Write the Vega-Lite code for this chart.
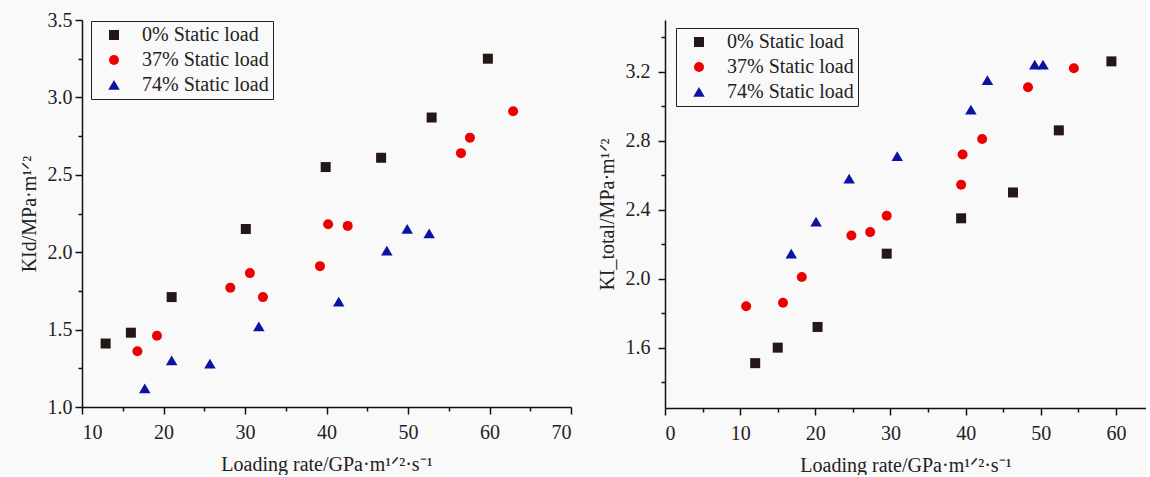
{
  "$schema": "https://vega.github.io/schema/vega-lite/v6.json",
  "background": "#f9f9f9",
  "padding": {"left": 19, "top": 10, "right": 0, "bottom": 0},
  "spacing": 25,
  "config": {
    "font": "Liberation Serif",
    "view": {"stroke": null},
    "axis": {
      "grid": false,
      "domainColor": "#111111",
      "domainWidth": 1.5,
      "tickColor": "#111111",
      "tickWidth": 1.5,
      "labelFont": "Liberation Serif",
      "labelFontSize": 20,
      "labelColor": "#222222",
      "titleFont": "Liberation Serif",
      "titleFontSize": 20,
      "titleFontWeight": "normal",
      "titleColor": "#222222",
      "labelOverlap": false
    },
    "legend": {
      "title": null,
      "orient": "none",
      "strokeColor": "#222222",
      "padding": 4,
      "labelFont": "Liberation Serif",
      "labelFontSize": 20,
      "labelColor": "#222222",
      "symbolSize": 100,
      "symbolStrokeWidth": 0,
      "symbolOffset": 9,
      "labelOffset": 18,
      "rowPadding": 5
    }
  },
  "datasets": {
    "left": [
      {"series": "0% Static load", "rate": 12.9, "K": 1.41},
      {"series": "0% Static load", "rate": 16.0, "K": 1.48},
      {"series": "0% Static load", "rate": 21.0, "K": 1.71},
      {"series": "0% Static load", "rate": 30.1, "K": 2.15},
      {"series": "0% Static load", "rate": 39.9, "K": 2.55},
      {"series": "0% Static load", "rate": 46.7, "K": 2.61},
      {"series": "0% Static load", "rate": 52.9, "K": 2.87},
      {"series": "0% Static load", "rate": 59.8, "K": 3.25},
      {"series": "37% Static load", "rate": 16.8, "K": 1.36},
      {"series": "37% Static load", "rate": 19.2, "K": 1.46},
      {"series": "37% Static load", "rate": 28.2, "K": 1.77},
      {"series": "37% Static load", "rate": 30.6, "K": 1.865},
      {"series": "37% Static load", "rate": 32.2, "K": 1.71},
      {"series": "37% Static load", "rate": 39.2, "K": 1.91},
      {"series": "37% Static load", "rate": 40.2, "K": 2.18},
      {"series": "37% Static load", "rate": 42.6, "K": 2.17},
      {"series": "37% Static load", "rate": 56.5, "K": 2.64},
      {"series": "37% Static load", "rate": 57.6, "K": 2.74},
      {"series": "37% Static load", "rate": 62.9, "K": 2.91},
      {"series": "74% Static load", "rate": 17.7, "K": 1.12},
      {"series": "74% Static load", "rate": 21.0, "K": 1.30},
      {"series": "74% Static load", "rate": 25.7, "K": 1.28},
      {"series": "74% Static load", "rate": 31.7, "K": 1.52},
      {"series": "74% Static load", "rate": 41.5, "K": 1.68},
      {"series": "74% Static load", "rate": 47.4, "K": 2.01},
      {"series": "74% Static load", "rate": 49.9, "K": 2.15},
      {"series": "74% Static load", "rate": 52.6, "K": 2.12}
    ],
    "right": [
      {"series": "0% Static load", "rate": 12.0, "K": 1.51},
      {"series": "0% Static load", "rate": 15.0, "K": 1.60},
      {"series": "0% Static load", "rate": 20.3, "K": 1.72},
      {"series": "0% Static load", "rate": 29.5, "K": 2.145},
      {"series": "0% Static load", "rate": 39.4, "K": 2.35},
      {"series": "0% Static load", "rate": 46.3, "K": 2.50},
      {"series": "0% Static load", "rate": 52.4, "K": 2.86},
      {"series": "0% Static load", "rate": 59.4, "K": 3.26},
      {"series": "37% Static load", "rate": 10.8, "K": 1.84},
      {"series": "37% Static load", "rate": 15.7, "K": 1.86},
      {"series": "37% Static load", "rate": 18.2, "K": 2.01},
      {"series": "37% Static load", "rate": 24.8, "K": 2.25},
      {"series": "37% Static load", "rate": 27.3, "K": 2.27},
      {"series": "37% Static load", "rate": 29.5, "K": 2.365},
      {"series": "37% Static load", "rate": 39.4, "K": 2.545},
      {"series": "37% Static load", "rate": 39.6, "K": 2.72},
      {"series": "37% Static load", "rate": 42.2, "K": 2.81},
      {"series": "37% Static load", "rate": 48.3, "K": 3.11},
      {"series": "37% Static load", "rate": 54.4, "K": 3.22},
      {"series": "74% Static load", "rate": 16.8, "K": 2.145},
      {"series": "74% Static load", "rate": 20.1, "K": 2.33},
      {"series": "74% Static load", "rate": 24.5, "K": 2.58},
      {"series": "74% Static load", "rate": 30.9, "K": 2.71},
      {"series": "74% Static load", "rate": 40.7, "K": 2.98},
      {"series": "74% Static load", "rate": 42.9, "K": 3.15},
      {"series": "74% Static load", "rate": 49.2, "K": 3.24},
      {"series": "74% Static load", "rate": 50.3, "K": 3.24}
    ]
  },
  "resolve": {
    "scale": {"color": "independent", "shape": "independent"},
    "legend": {"color": "independent", "shape": "independent"}
  },
  "hconcat": [
    {
      "width": 489,
      "height": 387,
      "data": {"name": "left"},
      "mark": {"type": "point", "filled": true, "opacity": 1, "size": 100, "strokeWidth": 0},
      "encoding": {
        "x": {
          "field": "rate", "type": "quantitative",
          "scale": {"domain": [10, 70], "nice": false, "zero": false},
          "axis": {
            "title": "Loading rate/GPa·m¹ᐟ²·s⁻¹",
            "values": [10, 15, 20, 25, 30, 35, 40, 45, 50, 55, 60, 65, 70],
            "labelExpr": "datum.value % 10 === 0 ? format(datum.value, 'd') : ''",
            "tickSize": {"condition": {"test": "datum.value % 10 === 0", "value": 7}, "value": 4},
            "labelPadding": 8,
            "titlePadding": 12
          }
        },
        "y": {
          "field": "K", "type": "quantitative",
          "scale": {"domain": [1.0, 3.5], "nice": false, "zero": false},
          "axis": {
            "title": "KId/MPa·m¹ᐟ²",
            "values": [1.0, 1.25, 1.5, 1.75, 2.0, 2.25, 2.5, 2.75, 3.0, 3.25, 3.5],
            "labelExpr": "abs(datum.value*2 - round(datum.value*2)) < 0.000001 ? format(datum.value, '.1f') : ''",
            "tickSize": {"condition": {"test": "abs(datum.value*2 - round(datum.value*2)) < 0.000001", "value": 7}, "value": 4},
            "labelPadding": 3,
            "titlePadding": 8
          }
        },
        "color": {
          "field": "series", "type": "nominal",
          "scale": {"domain": ["0% Static load", "37% Static load", "74% Static load"], "range": ["#231815", "#ee0000", "#0a14a0"]},
          "legend": {"legendX": 9, "legendY": 1}
        },
        "shape": {
          "field": "series", "type": "nominal",
          "scale": {"domain": ["0% Static load", "37% Static load", "74% Static load"], "range": ["square", "circle", "M0,-1L1.15,0.95L-1.15,0.95Z"]},
          "legend": {"legendX": 9, "legendY": 1}
        }
      }
    },
    {
      "width": 481,
      "height": 388,
      "data": {"name": "right"},
      "mark": {"type": "point", "filled": true, "opacity": 1, "size": 100, "strokeWidth": 0},
      "encoding": {
        "x": {
          "field": "rate", "type": "quantitative",
          "scale": {"domain": [0, 64], "nice": false, "zero": false},
          "axis": {
            "title": "Loading rate/GPa·m¹ᐟ²·s⁻¹",
            "values": [0, 5, 10, 15, 20, 25, 30, 35, 40, 45, 50, 55, 60],
            "labelExpr": "datum.value % 10 === 0 ? format(datum.value, 'd') : ''",
            "tickSize": {"condition": {"test": "datum.value % 10 === 0", "value": 7}, "value": 4},
            "labelPadding": 8,
            "titlePadding": 12
          }
        },
        "y": {
          "field": "K", "type": "quantitative",
          "scale": {"domain": [1.25, 3.5], "nice": false, "zero": false},
          "axis": {
            "title": "KI_total/MPa·m¹ᐟ²",
            "values": [1.4, 1.6, 1.8, 2.0, 2.2, 2.4, 2.6, 2.8, 3.0, 3.2, 3.4],
            "labelExpr": "abs(datum.value/0.4 - round(datum.value/0.4)) < 0.000001 ? format(datum.value, '.1f') : ''",
            "tickSize": {"condition": {"test": "abs(datum.value/0.4 - round(datum.value/0.4)) < 0.000001", "value": 7}, "value": 4},
            "labelPadding": 8,
            "titlePadding": 8
          }
        },
        "color": {
          "field": "series", "type": "nominal",
          "scale": {"domain": ["0% Static load", "37% Static load", "74% Static load"], "range": ["#231815", "#ee0000", "#0a14a0"]},
          "legend": {"legendX": 11, "legendY": 8}
        },
        "shape": {
          "field": "series", "type": "nominal",
          "scale": {"domain": ["0% Static load", "37% Static load", "74% Static load"], "range": ["square", "circle", "M0,-1L1.15,0.95L-1.15,0.95Z"]},
          "legend": {"legendX": 11, "legendY": 8}
        }
      }
    }
  ]
}
